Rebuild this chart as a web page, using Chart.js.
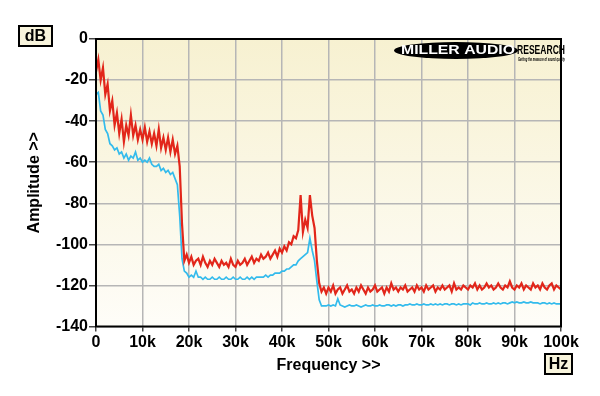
<!DOCTYPE html>
<html>
<head>
<meta charset="utf-8">
<script src="https://cdn.jsdelivr.net/npm/chart.js@4/dist/chart.umd.min.js"></script>
<style>
  html, body { margin: 0; padding: 0; background: #fff; }
  #wrap { width: 600px; height: 396px; position: relative; }
</style>
</head>
<body>
<div id="wrap"><canvas id="chart"></canvas></div>
<script>
// Spectrum, 0-100 kHz in 0.5 kHz steps (dB)
const freqsK = [
  0, 0.5, 1, 1.5, 2, 2.5, 3, 3.5, 4, 4.5,
  5, 5.5, 6, 6.5, 7, 7.5, 8, 8.5, 9, 9.5,
  10, 10.5, 11, 11.5, 12, 12.5, 13, 13.5, 14, 14.5,
  15, 15.5, 16, 16.5, 17, 17.5, 18, 18.5, 19, 19.5,
  20, 20.5, 21, 21.5, 22, 22.5, 23, 23.5, 24, 24.5,
  25, 25.5, 26, 26.5, 27, 27.5, 28, 28.5, 29, 29.5,
  30, 30.5, 31, 31.5, 32, 32.5, 33, 33.5, 34, 34.5,
  35, 35.5, 36, 36.5, 37, 37.5, 38, 38.5, 39, 39.5,
  40, 40.5, 41, 41.5, 42, 42.5, 43, 43.5, 44, 44.5,
  45, 45.5, 46, 46.5, 47, 47.5, 48, 48.5, 49, 49.5,
  50, 50.5, 51, 51.5, 52, 52.5, 53, 53.5, 54, 54.5,
  55, 55.5, 56, 56.5, 57, 57.5, 58, 58.5, 59, 59.5,
  60, 60.5, 61, 61.5, 62, 62.5, 63, 63.5, 64, 64.5,
  65, 65.5, 66, 66.5, 67, 67.5, 68, 68.5, 69, 69.5,
  70, 70.5, 71, 71.5, 72, 72.5, 73, 73.5, 74, 74.5,
  75, 75.5, 76, 76.5, 77, 77.5, 78, 78.5, 79, 79.5,
  80, 80.5, 81, 81.5, 82, 82.5, 83, 83.5, 84, 84.5,
  85, 85.5, 86, 86.5, 87, 87.5, 88, 88.5, 89, 89.5,
  90, 90.5, 91, 91.5, 92, 92.5, 93, 93.5, 94, 94.5,
  95, 95.5, 96, 96.5, 97, 97.5, 98, 98.5, 99, 99.5,
  100,
];

const redDb = [
  -16, -10, -20, -14, -27, -22, -35, -30, -42, -36,
  -46, -39, -50, -42, -47, -37, -47, -42, -49, -44,
  -49, -43, -50, -45, -51, -46, -52, -44, -53, -48,
  -54, -48, -55, -49, -56, -52, -62, -90, -108, -105,
  -109, -106, -110, -108, -107, -110, -106, -109, -111, -108,
  -110, -107, -109, -111, -108, -110, -109, -111, -107, -110,
  -111, -108, -110, -109, -107, -110, -108, -106, -109, -107,
  -108, -105, -107, -106, -104, -107, -105, -103, -106, -102,
  -104, -101, -103, -99, -100, -96, -97, -93, -76, -94,
  -88, -92, -76, -86, -92, -108, -119, -123, -121, -124,
  -121, -123, -120, -124, -122, -121, -124, -122, -120, -123,
  -122, -124, -121, -123, -120, -122, -124, -121, -123, -122,
  -120, -123, -122, -121, -124, -121, -123, -119, -122, -121,
  -123, -121, -122, -120, -123, -122, -121, -123, -120, -122,
  -121, -123, -120, -122, -121, -120, -123, -121, -122, -120,
  -122, -121, -120, -123, -119, -122, -121, -122, -120, -121,
  -122, -120, -121, -119, -122, -120, -122, -121, -119, -121,
  -120, -122, -121, -119, -121, -122, -120, -121, -118, -121,
  -122, -120, -121, -119, -122, -120, -121, -122, -119, -121,
  -120, -122, -119, -121, -122, -120, -119, -122, -120, -121,
  -122,
];

const blueDb = [
  -27, -26, -35, -37, -44, -46, -51, -52, -54, -53,
  -56, -55, -58, -56, -59, -57, -58, -55, -59, -58,
  -60, -59, -60, -58, -61, -62, -62, -61, -64, -63,
  -65, -64, -66, -65, -68, -71, -86, -107, -113, -114,
  -116, -115, -116, -113, -116, -116, -117, -116, -117, -117,
  -116, -117, -117, -116, -117, -117, -116, -117, -117, -116,
  -117, -117, -116, -117, -117, -116, -117, -116, -117, -116,
  -116, -116, -116, -115, -116, -115, -115, -114, -114, -114,
  -113, -113, -112, -112, -111, -110, -110, -108, -107, -106,
  -105, -104, -97, -103, -108, -118, -127, -130, -130, -130,
  -129.5, -130, -129.5, -130, -126.5, -129.5, -130, -130.5, -130, -129.5,
  -130, -130, -129.5, -130, -130.5, -130, -129.5, -130, -130, -129.5,
  -130, -130, -129.5, -130, -130, -129.5, -129.5, -130, -129.5, -130,
  -129.5, -129.5, -130, -129.5, -129.5, -129, -129.5, -129.5, -129, -129.5,
  -129.5, -129, -129.5, -129.5, -129, -129.5, -129, -129.5, -129, -129.5,
  -129, -129, -129.5, -129, -129, -129.5, -129, -129.5, -129, -129,
  -129, -129.5, -128.5, -129, -129, -128.5, -129, -129, -128.5, -129,
  -129, -128.5, -129, -128.5, -129, -128.5, -128.5, -129, -128.5, -128,
  -128.5, -128, -128.5, -128.5, -128, -128.5, -128.5, -128, -128.5, -128.5,
  -128.5, -129, -128.5, -128.5, -129, -128.5, -129, -128.5, -129, -129,
  -129,
];

const FONT = "'Liberation Sans', Arial, sans-serif";
const boldFont = (size) => ({ family: FONT, size, weight: "bold" });
const pts = (ys) => freqsK.map((f, i) => ({ x: f, y: ys[i] }));

// text squeezed or stretched to fill a given width
function fitText(ctx, text, x, y, w) {
  const m = ctx.measureText(text).width;
  ctx.save();
  ctx.translate(x, y);
  ctx.scale(w / m, 1);
  ctx.fillText(text, 0, 0);
  ctx.restore();
}

// plot background, frame, unit boxes and logo
const decor = {
  id: "decor",
  beforeDraw(chart) {
    const { ctx, chartArea: a } = chart;
    const g = ctx.createLinearGradient(0, a.top, 0, a.bottom);
    g.addColorStop(0, "#f7f1d1");
    g.addColorStop(1, "#fefdf8");
    ctx.save();
    ctx.fillStyle = g;
    ctx.fillRect(a.left, a.top, a.right - a.left, a.bottom - a.top);
    ctx.restore();
  },
  afterDraw(chart) {
    const { ctx, chartArea: a } = chart;
    ctx.save();
    ctx.strokeStyle = "#000";
    ctx.lineWidth = 2;
    ctx.strokeRect(a.left, a.top, a.right - a.left, a.bottom - a.top);

    const box = (x, y, w, h, t) => {
      ctx.fillStyle = "#f8f4dc";
      ctx.fillRect(x, y, w, h);
      ctx.lineWidth = 2;
      ctx.strokeStyle = "#000";
      ctx.strokeRect(x, y, w, h);
      ctx.fillStyle = "#000";
      ctx.font = "bold 16px " + FONT;
      ctx.textAlign = "center";
      ctx.textBaseline = "middle";
      ctx.fillText(t, x + w / 2, y + h / 2 + 1);
    };
    box(19, 26, 33, 20, "dB");
    box(545, 354, 27, 20, "Hz");

    // logo
    ctx.fillStyle = "#000";
    ctx.beginPath();
    ctx.ellipse(456, 50.5, 62, 8.5, 0, 0, Math.PI * 2);
    ctx.fill();
    ctx.textBaseline = "middle";
    ctx.textAlign = "left";
    ctx.font = "bold 12px " + FONT;
    ctx.fillStyle = "#fff";
    fitText(ctx, "MILLER AUDIO", 401, 51, 114);
    ctx.fillStyle = "#000";
    fitText(ctx, "RESEARCH", 517, 51, 48);
    ctx.font = "italic bold 5px " + FONT;
    fitText(ctx, "Getting the measure of sound quality", 518, 59.5, 47);
    ctx.restore();
  },
};

new Chart(document.getElementById("chart"), {
  type: "line",
  data: {
    datasets: [
      { data: pts(redDb), borderColor: "#e2261a", borderWidth: 2.2, pointRadius: 0, tension: 0 },
      { data: pts(blueDb), borderColor: "#33bbec", borderWidth: 1.7, pointRadius: 0, tension: 0 },
    ],
  },
  options: {
    responsive: true,
    maintainAspectRatio: false,
    animation: false,
    layout: { padding: { top: 39, right: 39, left: 0, bottom: 0 } },
    plugins: { legend: { display: false }, tooltip: { enabled: false } },
    scales: {
      x: {
        type: "linear",
        min: 0, max: 100,
        ticks: {
          stepSize: 10, color: "#000", font: boldFont(16), padding: 1, maxRotation: 0,
          callback: (v) => (v === 0 ? "0" : v + "k"),
        },
        grid: { color: "#b6b6b6", lineWidth: 1.5, tickLength: 5, tickColor: "#444" },
        border: { display: false },
        title: { display: true, text: "Frequency >>", color: "#000", font: boldFont(16), padding: { bottom: 21 } },
        afterFit(s) { s.height = 69.5; },
      },
      y: {
        min: -140, max: 0,
        ticks: { stepSize: 20, color: "#000", font: boldFont(16), padding: 1 },
        grid: { color: "#b6b6b6", lineWidth: 1.5, tickLength: 7, tickColor: "#444" },
        border: { display: false },
        title: { display: true, text: "Amplitude >>", color: "#000", font: boldFont(16), padding: { top: 25 } },
        afterFit(s) { s.width = 96; },
      },
    },
  },
  plugins: [decor],
});
</script>
</body>
</html>
